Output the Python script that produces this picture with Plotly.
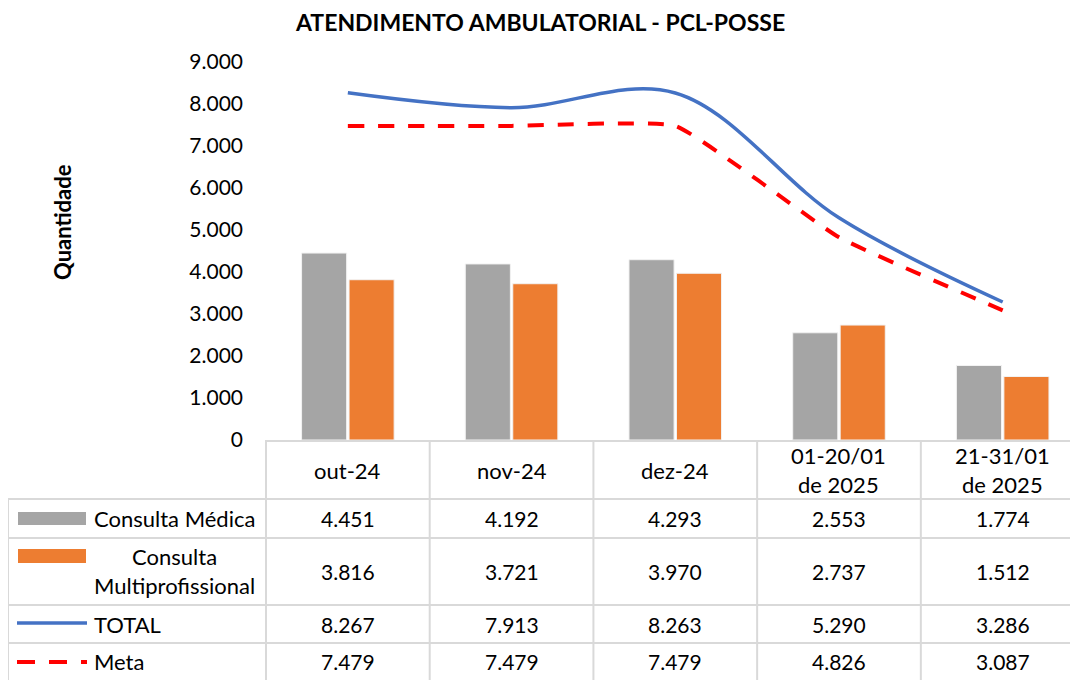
import plotly.graph_objects as go

# ---------------- data ----------------
categories = ["out-24", "nov-24", "dez-24", "01-20/01<br>de 2025", "21-31/01<br>de 2025"]
series_names = ["Consulta Médica", "Consulta<br>Multiprofissional", "TOTAL", "Meta"]
consulta_medica = [4451, 4192, 4293, 2553, 1774]
consulta_multi = [3816, 3721, 3970, 2737, 1512]
total = [8267, 7913, 8263, 5290, 3286]
meta = [7479, 7479, 7479, 4826, 3087]
y_ticks = [0, 1000, 2000, 3000, 4000, 5000, 6000, 7000, 8000, 9000]

# ---------------- style ----------------
OFF = 8  # page body margin
W, H = 1078 - OFF, 680 - OFF
L, R, T, B = 266 - OFF, 0, 62 - OFF, 240
FONT = "Lato"
GRAY = "#A5A5A5"
ORANGE = "#ED7D31"
BLUE = "#4472C4"
RED = "#FF0000"
GRID = "#D9D9D9"
XR = [-0.5, 4.46]

pw = W - L - R
ph = H - T - B


def px(x):
    return (x - OFF - L) / pw


def py(y):
    return (H - B - (y - OFF)) / ph


def cat_paper(i):
    return (i - XR[0]) / (XR[1] - XR[0])


xs = list(range(len(categories)))

fig = go.Figure()
fig.add_trace(go.Bar(x=xs, y=consulta_medica, name="Consulta Médica",
                     marker=dict(color=GRAY, line=dict(color="#F2F2F2", width=1))))
fig.add_trace(go.Bar(x=xs, y=consulta_multi, name="Consulta Multiprofissional",
                     marker=dict(color=ORANGE, line=dict(color="#F2F2F2", width=1))))
fig.add_trace(go.Scatter(x=xs, y=total, name="TOTAL", mode="lines",
                         line=dict(color=BLUE, width=3.5, shape="spline", smoothing=1)))
fig.add_trace(go.Scatter(x=xs, y=meta, name="Meta", mode="lines",
                         line=dict(color=RED, width=4, shape="spline", smoothing=0.35, dash="16px,14px")))

shapes = []
# table grid
row_lines = [499, 538, 605, 643]
for yl in row_lines:
    shapes.append(dict(type="line", xref="paper", yref="paper", x0=px(8), x1=1.0,
                       y0=py(yl), y1=py(yl), line=dict(color=GRID, width=2)))
shapes.append(dict(type="line", xref="paper", yref="paper", x0=px(8), x1=px(8),
                   y0=py(499), y1=py(690), line=dict(color=GRID, width=2)))
for k in range(len(categories)):
    xb = cat_paper(k - 0.5)
    shapes.append(dict(type="line", xref="paper", yref="paper", x0=xb, x1=xb,
                       y0=py(440), y1=py(690), line=dict(color=GRID, width=2)))

# legend keys in table
shapes.append(dict(type="rect", xref="paper", yref="paper", x0=px(18), x1=px(86),
                   y0=py(512), y1=py(525), fillcolor=GRAY, line=dict(width=0)))
shapes.append(dict(type="rect", xref="paper", yref="paper", x0=px(18), x1=px(86),
                   y0=py(549), y1=py(563), fillcolor=ORANGE, line=dict(width=0)))
shapes.append(dict(type="line", xref="paper", yref="paper", x0=px(17), x1=px(87),
                   y0=py(623), y1=py(623), line=dict(color=BLUE, width=3.5)))
shapes.append(dict(type="line", xref="paper", yref="paper", x0=px(17), x1=px(87),
                   y0=py(662), y1=py(662), line=dict(color=RED, width=4, dash="18px,14px")))

ann = []
vf = dict(family=FONT, size=21, color="#000000")
nf = dict(family=FONT, size=22, color="#000000")
# header row
for i, c in enumerate(categories):
    ann.append(dict(text=c, xref="paper", yref="paper", x=cat_paper(i), y=py(470),
                    xanchor="center", yanchor="middle", showarrow=False, font=nf))
# value rows
row_centers = [518, 571, 624, 661]
rows = [consulta_medica, consulta_multi, total, meta]
for name, vals, yc in zip(series_names, rows, row_centers):
    ann.append(dict(text=name, xref="paper", yref="paper", x=px(92), y=py(yc),
                    xanchor="left", yanchor="middle", align="center", showarrow=False, font=nf))
    for i, v in enumerate(vals):
        ann.append(dict(text=f"{v:,}".replace(",", "."), xref="paper", yref="paper",
                        x=cat_paper(i), y=py(yc), xanchor="center", yanchor="middle",
                        showarrow=False, font=vf))
# axis title
ann.append(dict(text="<b>Quantidade</b>", xref="paper", yref="paper", x=px(62), y=py(222),
                xanchor="center", yanchor="middle", textangle=-90, showarrow=False,
                font=dict(family=FONT, size=22, color="#000000")))
# chart title
ann.append(dict(text="<b>ATENDIMENTO AMBULATORIAL - PCL-POSSE</b>", xref="paper", yref="paper",
                x=px(540), y=py(22), xanchor="center", yanchor="middle", showarrow=False,
                font=dict(family=FONT, size=23, color="#000000")))

fig.update_layout(
    width=W, height=H,
    margin=dict(l=L, r=R, t=T, b=B),
    paper_bgcolor="white", plot_bgcolor="white",
    barmode="group", bargap=0.42, bargroupgap=0.05,
    showlegend=False,
    separators=",.",
    font=dict(family=FONT, size=21, color="#000000"),
    xaxis=dict(range=XR, showticklabels=False, showgrid=False, zeroline=False,
               showline=True, linecolor=GRID, linewidth=2, ticks=""),
    yaxis=dict(range=[0, 9000], tickvals=y_ticks, tickformat=",d", showgrid=False,
               zeroline=False, showline=False, ticks="", ticklabelstandoff=22,
               tickfont=dict(family=FONT, size=21, color="#000000")),
    shapes=shapes,
    annotations=ann,
)

fig.write_html("out.html")
